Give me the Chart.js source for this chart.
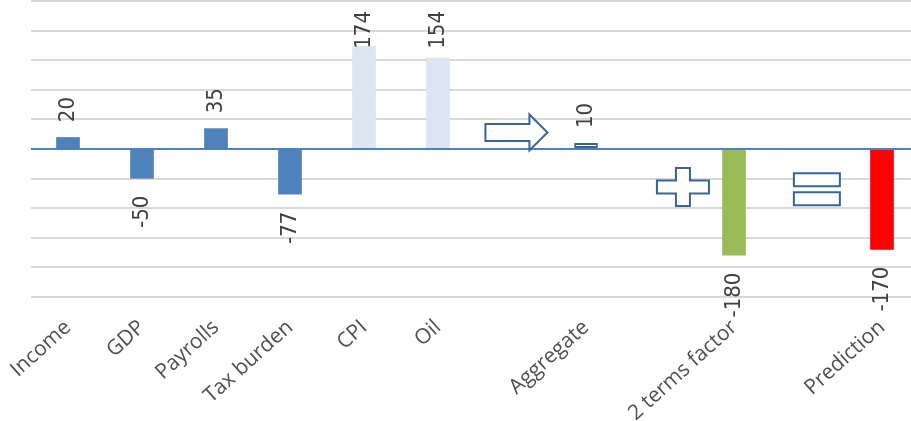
<!DOCTYPE html>
<html>
<head>
<meta charset="utf-8">
<script src="https://cdn.jsdelivr.net/npm/chart.js@4"></script>
<style>
  html, body { margin: 0; padding: 0; background: #fff; overflow: hidden; }
  #wrap { position: relative; width: 919px; height: 421px; }
</style>
</head>
<body>
<div id="wrap"><canvas id="chart"></canvas></div>
<script>
// blank categories hold the operator symbols
const categories = ['Income', 'GDP', 'Payrolls', 'Tax burden', 'CPI', 'Oil', '', 'Aggregate', '', '2 terms factor', '', 'Prediction'];
const values = [20, -50, 35, -77, 174, 154, null, 10, null, -180, null, -170];
const barColors = ['#4f81bd', '#4f81bd', '#4f81bd', '#4f81bd', '#dce6f2', '#dce6f2', null, '#ffffff', null, '#9bbb59', null, '#ff0000'];
const barBorders = [0, 0, 0, 0, 0, 0, 0, 2, 0, 0, 0, 0];
const yMin = -250;
const yMax = 250;
const yStep = 50;

// operator symbols: kind, position on the category axis, value on the y axis
const symbolKinds = ['arrow', 'plus', 'equals'];
const symbolAt = [6.06, 8.31, 10.12];
const symbolValue = [28, -64, -68];

const valueLabels = {
  id: 'valueLabels',
  afterDatasetsDraw(chart) {
    const ctx = chart.ctx;
    const top = chart.chartArea.top;
    const meta = chart.getDatasetMeta(0);
    ctx.save();
    ctx.font = '22px "Liberation Sans Narrow", "DejaVu Sans Condensed", sans-serif';
    ctx.fillStyle = '#404040';
    ctx.textBaseline = 'middle';
    meta.data.forEach((bar, i) => {
      const v = values[i];
      if (v === null) return;
      const text = String(v);
      const w = ctx.measureText(text).width;
      ctx.save();
      if (v >= 0) {
        let bottom = bar.y - 15;
        if (bottom - w < top + 10) bottom = top + 10 + w;
        ctx.translate(bar.x, bottom);
        ctx.rotate(-Math.PI / 2);
        ctx.textAlign = 'left';
      } else {
        ctx.translate(bar.x, bar.y + 17);
        ctx.rotate(-Math.PI / 2);
        ctx.textAlign = 'right';
      }
      ctx.fillText(text, 0, 0);
      ctx.restore();
    });
    ctx.restore();
  }
};

const symbols = {
  id: 'symbols',
  afterDatasetsDraw(chart) {
    const ctx = chart.ctx;
    const xs = chart.scales.x;
    const ys = chart.scales.y;
    ctx.save();
    ctx.strokeStyle = '#3a6496';
    ctx.lineWidth = 2;
    ctx.fillStyle = '#ffffff';
    ctx.lineJoin = 'miter';
    symbolKinds.forEach((kind, i) => {
      const cx = xs.getPixelForValue(symbolAt[i]);
      const cy = ys.getPixelForValue(symbolValue[i]);
      ctx.beginPath();
      if (kind === 'arrow') {
        ctx.moveTo(cx - 31, cy - 8.5);
        ctx.lineTo(cx + 13, cy - 8.5);
        ctx.lineTo(cx + 13, cy - 18);
        ctx.lineTo(cx + 31, cy);
        ctx.lineTo(cx + 13, cy + 18);
        ctx.lineTo(cx + 13, cy + 8.5);
        ctx.lineTo(cx - 31, cy + 8.5);
        ctx.closePath();
      } else if (kind === 'plus') {
        ctx.moveTo(cx - 7, cy - 19);
        ctx.lineTo(cx + 7, cy - 19);
        ctx.lineTo(cx + 7, cy - 6.5);
        ctx.lineTo(cx + 26, cy - 6.5);
        ctx.lineTo(cx + 26, cy + 6.5);
        ctx.lineTo(cx + 7, cy + 6.5);
        ctx.lineTo(cx + 7, cy + 19);
        ctx.lineTo(cx - 7, cy + 19);
        ctx.lineTo(cx - 7, cy + 6.5);
        ctx.lineTo(cx - 26, cy + 6.5);
        ctx.lineTo(cx - 26, cy - 6.5);
        ctx.lineTo(cx - 7, cy - 6.5);
        ctx.closePath();
      } else {
        ctx.rect(cx - 23, cy - 16, 46, 13);
        ctx.rect(cx - 23, cy + 3, 46, 13);
      }
      ctx.fill();
      ctx.stroke();
    });
    ctx.restore();
  }
};

new Chart(document.getElementById('chart'), {
  type: 'bar',
  data: {
    labels: categories,
    datasets: [{
      data: values,
      backgroundColor: barColors,
      borderColor: '#3a6496',
      borderWidth: barBorders,
      borderSkipped: false,
      categoryPercentage: 1,
      barPercentage: 0.32
    }]
  },
  options: {
    responsive: true,
    maintainAspectRatio: false,
    animation: false,
    layout: { padding: { top: 1 } },
    plugins: {
      legend: { display: false },
      tooltip: { enabled: false }
    },
    scales: {
      x: {
        grid: { display: false },
        border: { display: false },
        ticks: {
          autoSkip: false,
          minRotation: 42,
          maxRotation: 42,
          padding: 10,
          color: '#505050',
          font: { family: '"Open Sans", sans-serif', size: 21 }
        },
        afterFit: s => { s.height = 124; s.paddingLeft = 0; s.paddingRight = 0; }
      },
      y: {
        min: yMin,
        max: yMax,
        border: { display: false },
        grid: {
          drawTicks: false,
          color: c => c.tick.value === 0 ? '#4f81bd' : '#d9d9d9',
          lineWidth: 2
        },
        ticks: { display: false, stepSize: yStep },
        afterFit: s => { s.width = 31; s.paddingTop = 0; s.paddingBottom = 0; }
      }
    }
  },
  plugins: [valueLabels, symbols]
});
</script>
</body>
</html>
